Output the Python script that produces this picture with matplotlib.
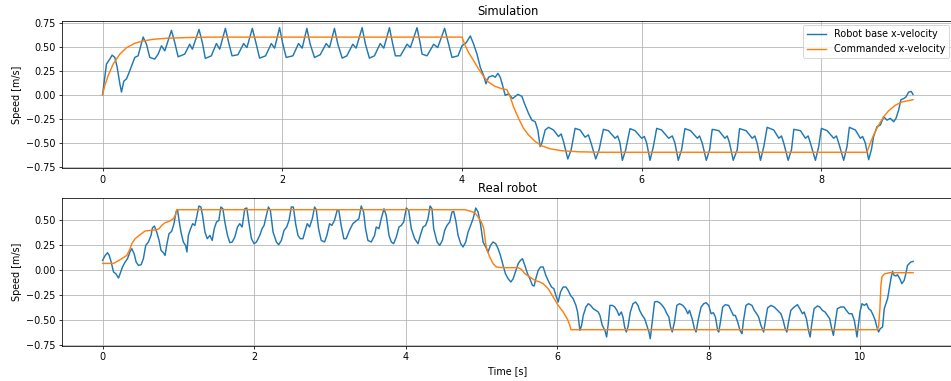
import matplotlib
matplotlib.use("Agg")
import matplotlib.pyplot as plt
import numpy as np

# ---------------- data ----------------
sim_vel = [
    (0.000, 0.000), (0.044, 0.320), (0.081, 0.371), (0.107, 0.412), (0.137, 0.388), (0.163, 0.285),
    (0.193, 0.113), (0.211, 0.027), (0.237, 0.141), (0.267, 0.165), (0.304, 0.251), (0.359, 0.388),
    (0.396, 0.405), (0.452, 0.601), (0.489, 0.526), (0.526, 0.388), (0.581, 0.371), (0.619, 0.423),
    (0.656, 0.509), (0.693, 0.457), (0.767, 0.670), (0.804, 0.543), (0.841, 0.395), (0.915, 0.423),
    (0.970, 0.526), (1.000, 0.474), (1.074, 0.680), (1.111, 0.543), (1.144, 0.378), (1.211, 0.405),
    (1.267, 0.533), (1.304, 0.474), (1.367, 0.691), (1.404, 0.543), (1.441, 0.405), (1.507, 0.416),
    (1.570, 0.533), (1.607, 0.491), (1.667, 0.691), (1.711, 0.526), (1.748, 0.381), (1.815, 0.405),
    (1.878, 0.533), (1.915, 0.485), (1.970, 0.698), (2.007, 0.526), (2.044, 0.388), (2.119, 0.405),
    (2.181, 0.533), (2.222, 0.485), (2.274, 0.691), (2.311, 0.526), (2.359, 0.388), (2.422, 0.416),
    (2.489, 0.533), (2.526, 0.491), (2.581, 0.691), (2.619, 0.526), (2.667, 0.381), (2.719, 0.405),
    (2.785, 0.526), (2.822, 0.485), (2.889, 0.698), (2.926, 0.526), (2.970, 0.381), (3.026, 0.405),
    (3.090, 0.533), (3.130, 0.485), (3.193, 0.698), (3.230, 0.526), (3.259, 0.405), (3.315, 0.405),
    (3.389, 0.526), (3.426, 0.491), (3.500, 0.698), (3.537, 0.526), (3.556, 0.423), (3.611, 0.405),
    (3.685, 0.526), (3.730, 0.491), (3.807, 0.691), (3.852, 0.526), (3.889, 0.388), (3.956, 0.405),
    (4.000, 0.509), (4.048, 0.543), (4.093, 0.612), (4.130, 0.526), (4.167, 0.423), (4.204, 0.285),
    (4.241, 0.199), (4.267, 0.113), (4.296, 0.182), (4.341, 0.199), (4.370, 0.182), (4.400, 0.223),
    (4.426, 0.182), (4.452, 0.096), (4.481, -0.007), (4.519, 0.010), (4.563, -0.041), (4.622, 0.003),
    (4.667, -0.017), (4.696, -0.093), (4.741, -0.196), (4.778, -0.265), (4.815, -0.282), (4.844, -0.368),
    (4.870, -0.540), (4.889, -0.505), (4.926, -0.368), (4.963, -0.340), (5.019, -0.368), (5.074, -0.436),
    (5.104, -0.409), (5.130, -0.488), (5.178, -0.670), (5.215, -0.574), (5.259, -0.351), (5.315, -0.368),
    (5.370, -0.443), (5.407, -0.419), (5.437, -0.505), (5.489, -0.670), (5.526, -0.574), (5.574, -0.361),
    (5.630, -0.375), (5.704, -0.454), (5.733, -0.430), (5.759, -0.505), (5.785, -0.684), (5.822, -0.574),
    (5.870, -0.354), (5.926, -0.375), (6.000, -0.454), (6.030, -0.436), (6.056, -0.505), (6.093, -0.684),
    (6.130, -0.540), (6.167, -0.351), (6.222, -0.368), (6.300, -0.454), (6.341, -0.430), (6.370, -0.505),
    (6.407, -0.684), (6.444, -0.574), (6.481, -0.354), (6.544, -0.375), (6.619, -0.454), (6.644, -0.430),
    (6.674, -0.505), (6.719, -0.684), (6.756, -0.574), (6.785, -0.361), (6.859, -0.375), (6.926, -0.454),
    (6.952, -0.430), (6.978, -0.505), (7.019, -0.684), (7.063, -0.574), (7.089, -0.354), (7.163, -0.375),
    (7.230, -0.454), (7.259, -0.430), (7.285, -0.505), (7.322, -0.684), (7.359, -0.540), (7.396, -0.340),
    (7.470, -0.368), (7.526, -0.454), (7.556, -0.430), (7.581, -0.505), (7.630, -0.684), (7.667, -0.574),
    (7.693, -0.361), (7.767, -0.375), (7.822, -0.454), (7.852, -0.430), (7.878, -0.505), (7.933, -0.684),
    (7.970, -0.540), (8.000, -0.351), (8.063, -0.375), (8.137, -0.454), (8.167, -0.430), (8.193, -0.505),
    (8.248, -0.684), (8.285, -0.540), (8.311, -0.340), (8.378, -0.368), (8.433, -0.454), (8.459, -0.436),
    (8.489, -0.505), (8.526, -0.677), (8.556, -0.574), (8.581, -0.436), (8.619, -0.333), (8.656, -0.316),
    (8.693, -0.230), (8.730, -0.265), (8.767, -0.247), (8.804, -0.282), (8.830, -0.247), (8.859, -0.162),
    (8.885, -0.052), (8.915, -0.041), (8.941, -0.024), (8.970, 0.027), (9.000, 0.034), (9.019, 0.003),
]

sim_cmd = [
    (0.000, 0.000), (0.026, 0.096), (0.063, 0.200), (0.119, 0.320), (0.193, 0.423), (0.267, 0.490),
    (0.359, 0.536), (0.452, 0.560), (0.563, 0.577), (0.711, 0.588), (0.933, 0.595), (1.200, 0.600),
    (4.000, 0.600), (4.037, 0.510), (4.074, 0.440), (4.130, 0.354), (4.185, 0.268), (4.241, 0.190),
    (4.296, 0.130), (4.370, 0.086), (4.444, 0.062), (4.500, 0.052), (4.537, -0.024), (4.574, -0.127),
    (4.630, -0.247), (4.685, -0.350), (4.741, -0.420), (4.815, -0.488), (4.889, -0.533), (4.981, -0.564),
    (5.111, -0.584), (5.296, -0.595), (5.556, -0.600), (8.507, -0.600), (8.544, -0.505), (8.581, -0.420),
    (8.637, -0.316), (8.693, -0.230), (8.748, -0.168), (8.822, -0.110), (8.896, -0.076), (9.019, -0.052),
]

real_vel = [
    (0.000, 0.093), (0.035, 0.143), (0.066, 0.170), (0.088, 0.143), (0.114, 0.077), (0.145, -0.023),
    (0.175, -0.040), (0.211, -0.083), (0.232, -0.040), (0.263, 0.027), (0.298, 0.077), (0.329, 0.110),
    (0.364, 0.183), (0.386, 0.210), (0.417, 0.160), (0.443, 0.077), (0.474, 0.043), (0.509, 0.050),
    (0.539, 0.110), (0.570, 0.243), (0.605, 0.277), (0.640, 0.343), (0.658, 0.417), (0.684, 0.437),
    (0.715, 0.377), (0.746, 0.293), (0.772, 0.193), (0.803, 0.170), (0.825, 0.143), (0.846, 0.243),
    (0.877, 0.360), (0.912, 0.383), (0.943, 0.460), (0.969, 0.577), (0.991, 0.593), (1.013, 0.477),
    (1.035, 0.377), (1.066, 0.277), (1.096, 0.243), (1.114, 0.177), (1.132, 0.343), (1.162, 0.410),
    (1.189, 0.460), (1.219, 0.443), (1.246, 0.543), (1.272, 0.637), (1.298, 0.627), (1.320, 0.543),
    (1.351, 0.377), (1.382, 0.310), (1.417, 0.343), (1.447, 0.293), (1.474, 0.410), (1.504, 0.477),
    (1.535, 0.493), (1.561, 0.627), (1.588, 0.610), (1.614, 0.477), (1.649, 0.343), (1.680, 0.270),
    (1.711, 0.277), (1.746, 0.327), (1.781, 0.427), (1.811, 0.460), (1.842, 0.427), (1.877, 0.610),
    (1.904, 0.617), (1.930, 0.477), (1.965, 0.310), (2.000, 0.260), (2.031, 0.277), (2.075, 0.343),
    (2.105, 0.410), (2.132, 0.443), (2.162, 0.543), (2.189, 0.627), (2.215, 0.593), (2.250, 0.377),
    (2.294, 0.277), (2.325, 0.250), (2.360, 0.293), (2.395, 0.393), (2.430, 0.427), (2.461, 0.493),
    (2.491, 0.627), (2.518, 0.627), (2.548, 0.460), (2.579, 0.343), (2.610, 0.310), (2.645, 0.310),
    (2.675, 0.393), (2.702, 0.460), (2.732, 0.427), (2.768, 0.510), (2.798, 0.627), (2.820, 0.603),
    (2.851, 0.410), (2.886, 0.293), (2.930, 0.277), (2.961, 0.343), (2.996, 0.460), (3.026, 0.443),
    (3.061, 0.493), (3.096, 0.593), (3.118, 0.593), (3.149, 0.443), (3.184, 0.310), (3.215, 0.310),
    (3.259, 0.393), (3.303, 0.460), (3.383, 0.510), (3.414, 0.637), (3.445, 0.577), (3.471, 0.410),
    (3.502, 0.293), (3.546, 0.277), (3.590, 0.343), (3.612, 0.427), (3.648, 0.410), (3.678, 0.510),
    (3.714, 0.610), (3.744, 0.543), (3.780, 0.343), (3.811, 0.277), (3.841, 0.260), (3.877, 0.327),
    (3.912, 0.427), (3.943, 0.443), (3.974, 0.477), (4.009, 0.617), (4.040, 0.593), (4.075, 0.410),
    (4.119, 0.310), (4.163, 0.260), (4.194, 0.343), (4.229, 0.427), (4.264, 0.443), (4.295, 0.510),
    (4.322, 0.637), (4.348, 0.610), (4.370, 0.410), (4.414, 0.277), (4.449, 0.243), (4.485, 0.293),
    (4.515, 0.393), (4.546, 0.443), (4.581, 0.477), (4.612, 0.577), (4.634, 0.583), (4.661, 0.493),
    (4.692, 0.343), (4.727, 0.260), (4.758, 0.227), (4.793, 0.277), (4.824, 0.377), (4.855, 0.437),
    (4.890, 0.510), (4.925, 0.617), (4.956, 0.577), (4.987, 0.460), (5.022, 0.277), (5.057, 0.227),
    (5.088, 0.177), (5.119, 0.243), (5.154, 0.277), (5.189, 0.260), (5.220, 0.210), (5.251, 0.143),
    (5.286, 0.043), (5.317, -0.040), (5.352, -0.090), (5.388, -0.123), (5.419, -0.090), (5.449, -0.023),
    (5.485, 0.060), (5.515, 0.093), (5.542, 0.110), (5.573, 0.043), (5.608, -0.040), (5.639, -0.090),
    (5.674, -0.157), (5.696, -0.163), (5.718, -0.090), (5.749, -0.007), (5.780, 0.027), (5.815, 0.027),
    (5.850, -0.057), (5.890, -0.123), (5.925, -0.173), (5.956, -0.190), (5.982, -0.257), (6.013, -0.323),
    (6.044, -0.223), (6.079, -0.173), (6.115, -0.173), (6.145, -0.207), (6.176, -0.257), (6.211, -0.290),
    (6.247, -0.357), (6.269, -0.423), (6.300, -0.607), (6.322, -0.557), (6.344, -0.457), (6.379, -0.373),
    (6.410, -0.340), (6.441, -0.357), (6.476, -0.390), (6.511, -0.407), (6.542, -0.423), (6.564, -0.457),
    (6.595, -0.557), (6.630, -0.607), (6.652, -0.673), (6.674, -0.540), (6.696, -0.357), (6.728, -0.357),
    (6.759, -0.373), (6.789, -0.407), (6.816, -0.457), (6.846, -0.423), (6.868, -0.473), (6.890, -0.573),
    (6.912, -0.623), (6.934, -0.573), (6.965, -0.423), (7.000, -0.340), (7.035, -0.323), (7.066, -0.357),
    (7.088, -0.407), (7.123, -0.457), (7.154, -0.490), (7.175, -0.540), (7.211, -0.623), (7.228, -0.690),
    (7.254, -0.523), (7.285, -0.323), (7.316, -0.317), (7.351, -0.330), (7.386, -0.357), (7.417, -0.390),
    (7.447, -0.440), (7.474, -0.473), (7.496, -0.573), (7.518, -0.623), (7.548, -0.523), (7.579, -0.357),
    (7.614, -0.340), (7.658, -0.357), (7.693, -0.390), (7.724, -0.440), (7.746, -0.407), (7.781, -0.490),
    (7.811, -0.590), (7.833, -0.623), (7.864, -0.490), (7.899, -0.373), (7.934, -0.340), (7.965, -0.330),
    (8.000, -0.357), (8.031, -0.440), (8.061, -0.430), (8.088, -0.473), (8.118, -0.607), (8.132, -0.623),
    (8.154, -0.523), (8.184, -0.373), (8.219, -0.350), (8.263, -0.357), (8.294, -0.407), (8.325, -0.457),
    (8.351, -0.457), (8.382, -0.523), (8.412, -0.607), (8.439, -0.640), (8.456, -0.523), (8.491, -0.357),
    (8.526, -0.340), (8.570, -0.357), (8.601, -0.407), (8.632, -0.440), (8.658, -0.473), (8.689, -0.557),
    (8.724, -0.623), (8.746, -0.523), (8.776, -0.383), (8.820, -0.357), (8.864, -0.373), (8.908, -0.407),
    (8.952, -0.440), (8.982, -0.507), (9.009, -0.590), (9.031, -0.623), (9.053, -0.523), (9.083, -0.407),
    (9.127, -0.373), (9.171, -0.350), (9.202, -0.390), (9.237, -0.440), (9.259, -0.423), (9.289, -0.490),
    (9.316, -0.607), (9.338, -0.673), (9.360, -0.540), (9.390, -0.390), (9.434, -0.363), (9.465, -0.373),
    (9.500, -0.407), (9.535, -0.423), (9.566, -0.457), (9.596, -0.490), (9.623, -0.590), (9.645, -0.657),
    (9.667, -0.540), (9.697, -0.390), (9.741, -0.373), (9.785, -0.373), (9.816, -0.407), (9.851, -0.440),
    (9.890, -0.440), (9.921, -0.507), (9.943, -0.607), (9.956, -0.673), (9.974, -0.557), (9.996, -0.423),
    (10.022, -0.340), (10.053, -0.357), (10.083, -0.340), (10.110, -0.390), (10.140, -0.407), (10.171, -0.457),
    (10.197, -0.507), (10.219, -0.573), (10.241, -0.623), (10.263, -0.590), (10.294, -0.573), (10.316, -0.390),
    (10.338, -0.340), (10.360, -0.290), (10.382, -0.190), (10.404, -0.090), (10.425, -0.017), (10.447, -0.057),
    (10.469, -0.063), (10.491, -0.050), (10.522, -0.090), (10.548, -0.140), (10.579, -0.107), (10.601, -0.040),
    (10.623, 0.043), (10.645, 0.060), (10.667, 0.077), (10.697, 0.083),
]

real_cmd = [
    (0.000, 0.063), (0.145, 0.063), (0.232, 0.100), (0.320, 0.143), (0.364, 0.210), (0.386, 0.260),
    (0.430, 0.310), (0.496, 0.350), (0.561, 0.387), (0.627, 0.393), (0.715, 0.400), (0.746, 0.410),
    (0.781, 0.443), (0.825, 0.470), (0.890, 0.487), (0.934, 0.510), (0.965, 0.550), (0.978, 0.600),
    (4.780, 0.600), (4.846, 0.587), (4.912, 0.570), (4.956, 0.527), (5.000, 0.477), (5.031, 0.410),
    (5.053, 0.277), (5.075, 0.193), (5.110, 0.127), (5.154, 0.060), (5.198, 0.027), (5.286, 0.020),
    (5.485, 0.020), (5.529, 0.003), (5.573, -0.040), (5.639, -0.073), (5.705, -0.107), (5.771, -0.123),
    (5.815, -0.140), (5.881, -0.190), (5.947, -0.273), (6.013, -0.357), (6.079, -0.423), (6.132, -0.490),
    (6.167, -0.557), (6.181, -0.600), (10.219, -0.600), (10.241, -0.573), (10.259, -0.390), (10.272, -0.157),
    (10.285, -0.073), (10.316, -0.043), (10.382, -0.030), (10.697, -0.030),
]

titles = ["Simulation", "Real robot"]
legend_labels = ["Robot base x-velocity", "Commanded x-velocity"]
y_label = "Speed [m/s]"
x_label = "Time [s]"

# ---------------- figure ----------------
DPI = 69
fig = plt.figure(figsize=(951 / DPI, 381 / DPI), dpi=DPI)
W, H = 951.0, 381.0
ax1 = fig.add_axes([62 / W, 1 - 168 / H, (953.5 - 62) / W, (168 - 20.7) / H])
ax2 = fig.add_axes([62 / W, 1 - 345.7 / H, (953.5 - 62) / W, (345.7 - 198) / H])

blue = "#1f77b4"
orange = "#ff7f0e"

for ax, vel, cmd, title in [(ax1, sim_vel, sim_cmd, titles[0]), (ax2, real_vel, real_cmd, titles[1])]:
    vt, vv = zip(*vel)
    ct, cv = zip(*cmd)
    ax.plot(vt, vv, color=blue, lw=1.5, label=legend_labels[0])
    ax.plot(ct, cv, color=orange, lw=1.5, label=legend_labels[1])
    ax.set_title(title)
    ax.set_ylabel(y_label)
    ax.grid(True)

ax1.set_xlim(-0.451, 9.47)
ax1.set_ylim(-0.764, 0.771)
ax1.set_yticks([-0.75, -0.5, -0.25, 0.0, 0.25, 0.5, 0.75])
ax1.set_xticks([0, 2, 4, 6, 8])
ax1.legend(loc="upper right")

ax2.set_xlim(-0.535, 11.23)
ax2.set_ylim(-0.76, 0.717)
ax2.set_yticks([-0.75, -0.5, -0.25, 0.0, 0.25, 0.5])
ax2.set_xticks([0, 2, 4, 6, 8, 10])
ax2.set_xlabel(x_label)

fig.savefig("out.png", dpi=DPI)
